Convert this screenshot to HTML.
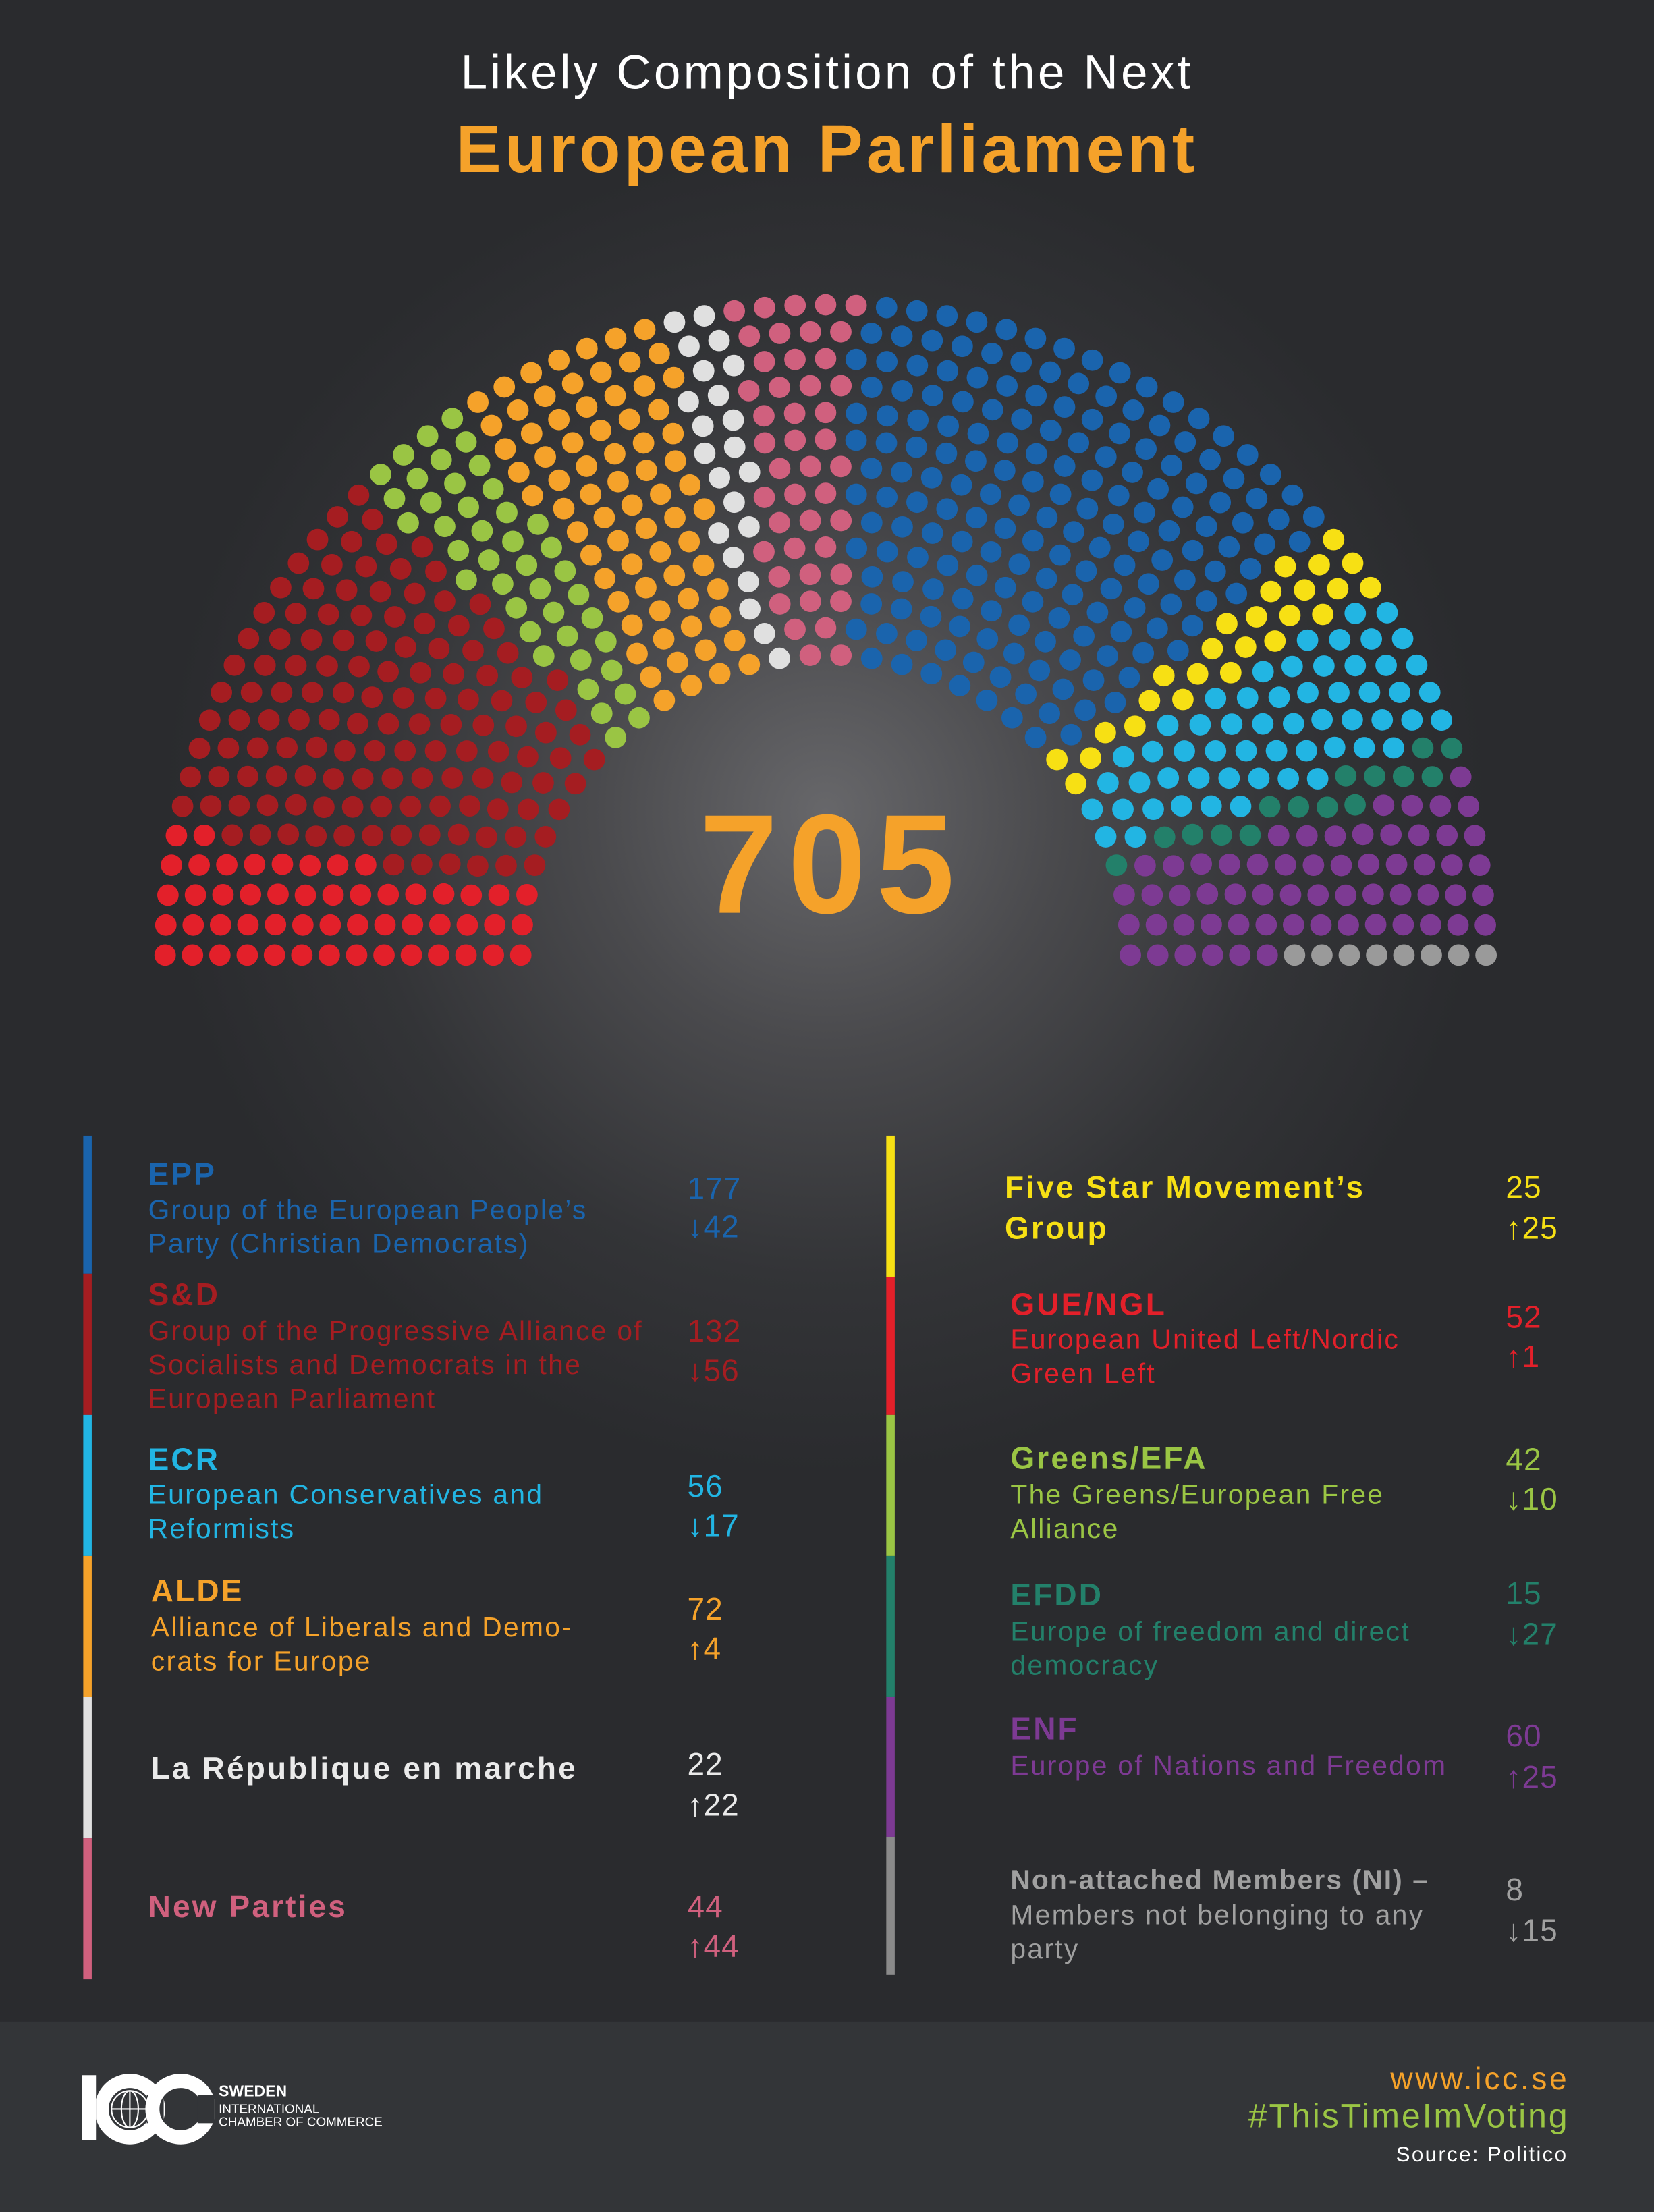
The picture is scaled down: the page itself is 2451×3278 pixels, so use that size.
<!DOCTYPE html>
<html><head><meta charset="utf-8"><style>
html,body{margin:0;padding:0;background:#2b2c2f;}
body{width:2451px;height:3278px;overflow:hidden;position:relative;}
#w{position:absolute;left:0;top:0;width:1172px;height:1568px;transform:scale(2.0913,2.0906);transform-origin:0 0;
background:radial-gradient(ellipse 470px 470px at 585px 575px,#67676a 0%,#4a4a4d 35%,#333437 70%,#2a2b2e 100%);
font-family:"Liberation Sans",sans-serif;}
.t{position:absolute;white-space:nowrap;line-height:1;}
.bar{position:absolute;width:6px;}
.h{font-weight:bold;font-size:22px;letter-spacing:1.5px;}
.d{font-size:19.5px;letter-spacing:1.1px;}
.n{font-size:22px;letter-spacing:0.5px;}
#foot{position:absolute;left:0;top:1433px;width:1172px;height:135px;background:#333538;}
</style></head><body><div id="w">
<div class="t" style="left:0;width:1172px;text-align:center;top:35px;font-size:34px;letter-spacing:2px;color:#fff;">Likely Composition of the Next</div>
<div class="t" style="left:0;width:1172px;text-align:center;top:83px;font-size:48px;letter-spacing:2.4px;font-weight:bold;color:#f5a22a;">European Parliament</div>
<svg id="hemi" width="1172" height="720" style="position:absolute;left:0;top:0"></svg>
<div class="t" style="left:0;width:1172px;text-align:center;top:563px;font-size:100px;letter-spacing:7px;padding-left:7px;box-sizing:border-box;font-weight:bold;color:#f5a22a;">705</div>

<div class="bar" style="left:59px;top:805px;height:98px;background:#1a64ad"></div>
<div class="bar" style="left:59px;top:903px;height:100px;background:#a51d21"></div>
<div class="bar" style="left:59px;top:1003px;height:100px;background:#22b5e3"></div>
<div class="bar" style="left:59px;top:1103px;height:100px;background:#f5a22a"></div>
<div class="bar" style="left:59px;top:1203px;height:100px;background:#e0e0e0"></div>
<div class="bar" style="left:59px;top:1303px;height:100px;background:#d0607e"></div>
<div class="bar" style="left:628px;top:805px;height:100px;background:#f7e014"></div>
<div class="bar" style="left:628px;top:905px;height:98px;background:#e3202a"></div>
<div class="bar" style="left:628px;top:1003px;height:100px;background:#9ac544"></div>
<div class="bar" style="left:628px;top:1103px;height:100px;background:#23806a"></div>
<div class="bar" style="left:628px;top:1203px;height:99px;background:#7d3a93"></div>
<div class="bar" style="left:628px;top:1302px;height:98px;background:#8a8a8a"></div>

<div style="color:#1a64ad">
<div class="t h" style="left:105px;top:822px">EPP</div>
<div class="t d" style="left:105px;top:849px">Group of the European People’s</div>
<div class="t d" style="left:105px;top:873px">Party (Christian Democrats)</div>
<div class="t n" style="left:487px;top:832px">177</div>
<div class="t n" style="left:487px;top:859px">↓42</div></div>
<div style="color:#a51d21">
<div class="t h" style="left:105px;top:907px">S&amp;D</div>
<div class="t d" style="left:105px;top:935px">Group of the Progressive Alliance of</div>
<div class="t d" style="left:105px;top:959px">Socialists and Democrats in the</div>
<div class="t d" style="left:105px;top:983px">European Parliament</div>
<div class="t n" style="left:487px;top:933px">132</div>
<div class="t n" style="left:487px;top:961px">↓56</div></div>
<div style="color:#22b5e3">
<div class="t h" style="left:105px;top:1024px">ECR</div>
<div class="t d" style="left:105px;top:1051px">European Conservatives and</div>
<div class="t d" style="left:105px;top:1075px">Reformists</div>
<div class="t n" style="left:487px;top:1043px">56</div>
<div class="t n" style="left:487px;top:1071px">↓17</div></div>
<div style="color:#f5a22a">
<div class="t h" style="left:107px;top:1117px">ALDE</div>
<div class="t d" style="left:107px;top:1145px">Alliance of Liberals and Demo-</div>
<div class="t d" style="left:107px;top:1169px">crats for Europe</div>
<div class="t n" style="left:487px;top:1130px">72</div>
<div class="t n" style="left:487px;top:1158px">↑4</div></div>
<div style="color:#eaeaea">
<div class="t h" style="left:107px;top:1243px">La République en marche</div>
<div class="t n" style="left:487px;top:1240px">22</div>
<div class="t n" style="left:487px;top:1269px">↑22</div></div>
<div style="color:#d0607e">
<div class="t h" style="left:105px;top:1341px">New Parties</div>
<div class="t n" style="left:487px;top:1341px">44</div>
<div class="t n" style="left:487px;top:1369px">↑44</div></div>

<div style="color:#f7e014">
<div class="t h" style="left:712px;top:831px">Five Star Movement’s</div>
<div class="t h" style="left:712px;top:860px">Group</div>
<div class="t n" style="left:1067px;top:831px">25</div>
<div class="t n" style="left:1067px;top:860px">↑25</div></div>
<div style="color:#e3202a">
<div class="t h" style="left:716px;top:914px">GUE/NGL</div>
<div class="t d" style="left:716px;top:941px">European United Left/Nordic</div>
<div class="t d" style="left:716px;top:965px">Green Left</div>
<div class="t n" style="left:1067px;top:923px">52</div>
<div class="t n" style="left:1067px;top:951px">↑1</div></div>
<div style="color:#9ac544">
<div class="t h" style="left:716px;top:1023px">Greens/EFA</div>
<div class="t d" style="left:716px;top:1051px">The Greens/European Free</div>
<div class="t d" style="left:716px;top:1075px">Alliance</div>
<div class="t n" style="left:1067px;top:1024px">42</div>
<div class="t n" style="left:1067px;top:1052px">↓10</div></div>
<div style="color:#23806a">
<div class="t h" style="left:716px;top:1120px">EFDD</div>
<div class="t d" style="left:716px;top:1148px">Europe of freedom and direct</div>
<div class="t d" style="left:716px;top:1172px">democracy</div>
<div class="t n" style="left:1067px;top:1119px">15</div>
<div class="t n" style="left:1067px;top:1148px">↓27</div></div>
<div style="color:#7d3a93">
<div class="t h" style="left:716px;top:1215px">ENF</div>
<div class="t d" style="left:716px;top:1243px">Europe of Nations and Freedom</div>
<div class="t n" style="left:1067px;top:1220px">60</div>
<div class="t n" style="left:1067px;top:1249px">↑25</div></div>
<div style="color:#a0a0a0">
<div class="t" style="left:716px;top:1324px;font-size:19.5px;letter-spacing:1px;font-weight:bold">Non-attached Members (NI) –</div>
<div class="t d" style="left:716px;top:1349px">Members not belonging to any</div>
<div class="t d" style="left:716px;top:1373px">party</div>
<div class="t n" style="left:1067px;top:1329px">8</div>
<div class="t n" style="left:1067px;top:1358px">↓15</div></div>

<div id="foot">
<div style="position:absolute;left:58px;top:38px;width:10px;height:46px;background:#fff"></div>
<svg style="position:absolute;left:68px;top:36px" width="84" height="52" viewBox="0 0 84 52">
<circle cx="24" cy="26" r="20" fill="none" stroke="#fff" stroke-width="10"/>
<rect x="36" y="16" width="12" height="20" fill="#333538"/>
<circle cx="24" cy="26" r="13" fill="none" stroke="#fff" stroke-width="1"/>
<ellipse cx="24" cy="26" rx="6" ry="13" fill="none" stroke="#fff" stroke-width="1"/>
<line x1="11" y1="26" x2="37" y2="26" stroke="#fff"/><line x1="24" y1="13" x2="24" y2="39" stroke="#fff"/>
<circle cx="60" cy="26" r="20" fill="none" stroke="#fff" stroke-width="10"/>
<rect x="72" y="16" width="14" height="20" fill="#333538"/>
</svg>
<div class="t" style="left:155px;top:45px;font-size:11px;font-weight:bold;color:#fff">SWEDEN</div>
<div class="t" style="left:155px;top:58px;font-size:9px;color:#fff">INTERNATIONAL</div>
<div class="t" style="left:155px;top:67px;font-size:9px;color:#fff">CHAMBER OF COMMERCE</div>
<div class="t" style="right:60px;top:30px;font-size:22px;letter-spacing:1.8px;color:#f5a22a">www.icc.se</div>
<div class="t" style="right:60px;top:56px;font-size:24px;letter-spacing:1.35px;color:#9ac544">#ThisTimeImVoting</div>
<div class="t" style="right:61px;top:87px;font-size:15px;letter-spacing:1.1px;color:#fff">Source: Politico</div>
</div>
</div>
<script>
(function(){
var parties=[[52,"#e3202a"],[132,"#a51d21"],[42,"#9ac544"],[72,"#f5a22a"],[22,"#e0e0e0"],[44,"#d0607e"],[177,"#1a64ad"],[25,"#f7e014"],[56,"#22b5e3"],[15,"#23806a"],[60,"#7d3a93"],[8,"#9a9a9a"]];
var cx=585,cy=677,rows=14,r0=216,r1=468,total=705;
var radii=[],sum=0;for(var i=0;i<rows;i++){var r=r0+(r1-r0)*i/(rows-1);radii.push(r);sum+=r;}
var counts=[],c=0;for(i=0;i<rows;i++){var n=Math.round(total*radii[i]/sum);counts.push(n);c+=n;}
counts[rows-1]+=total-c;
var seats=[];
for(i=0;i<rows;i++){var n=counts[i];for(var j=0;j<n;j++){var a=Math.PI*(1-j/(n-1));seats.push({a:a,r:radii[i]});}}
seats.sort(function(p,q){return q.a-p.a||p.r-q.r;});
var s="",k=0;
parties.forEach(function(p){for(var m=0;m<p[0];m++){var st=seats[k++];
s+='<circle cx="'+(cx+st.r*Math.cos(st.a)).toFixed(1)+'" cy="'+(cy-0.985*st.r*Math.sin(st.a)).toFixed(1)+'" r="7.6" fill="'+p[1]+'"/>';}});
document.getElementById("hemi").innerHTML=s;
})();
</script>
</body></html>
